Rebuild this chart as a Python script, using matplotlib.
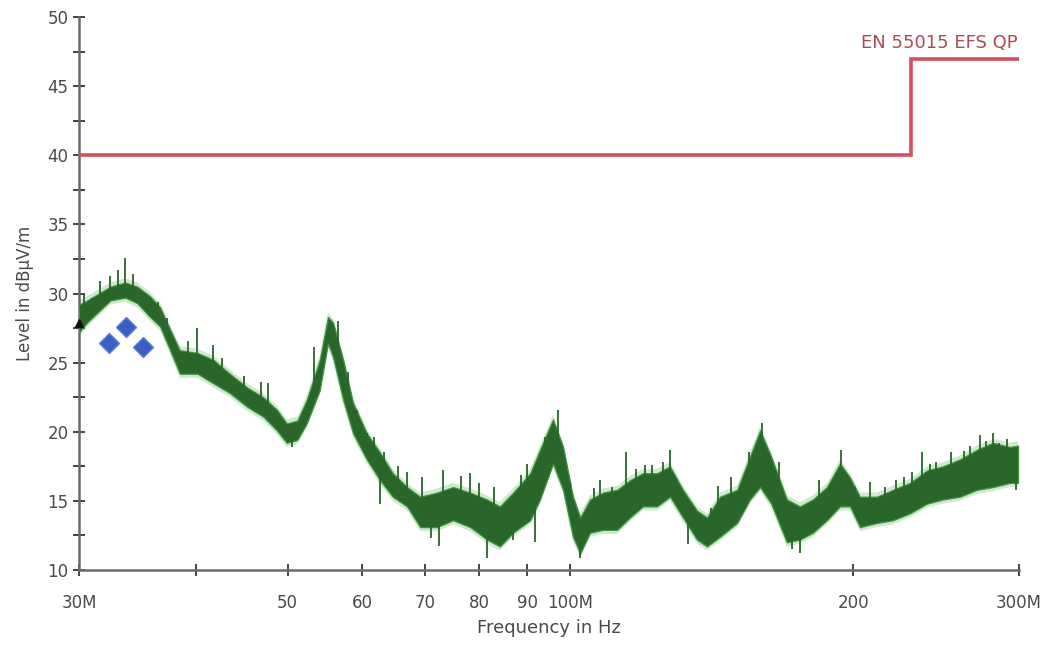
import numpy as np
import matplotlib
matplotlib.use("Agg")
import matplotlib.pyplot as plt
from matplotlib.ticker import FixedLocator, NullFormatter

plt.rcParams['font.family'] = ['DejaVu Sans']

# Measured emission trace (MHz, lower / upper edge of the noisy band in dBuV/m)
freq_mhz = [30.0, 30.6, 32.4, 33.6, 34.6, 35.7, 36.6, 37.5, 38.4, 40.1, 41.7,
            43.4, 45.3, 47.1, 48.7, 49.9, 51.2, 52.4, 54.1, 55.2, 55.9, 57.3,
            58.7, 60.7, 62.7, 64.7, 67.0, 69.2, 72.1, 75.0, 78.2, 81.5, 84.1,
            86.9, 90.6, 92.8, 95.8, 98.2, 100.6, 102.4, 104.9, 108.3, 112.1,
            115.7, 119.4, 123.6, 127.6, 131.7, 136.3, 139.7, 144.2, 150.4,
            155.2, 159.1, 163.5, 169.9, 175.4, 181.1, 187.4, 193.5, 198.3,
            203.2, 211.8, 220.3, 229.7, 239.5, 249.0, 259.6, 270.7, 281.5,
            293.5, 299.3]
band_low = [27.2, 27.9, 29.5, 29.7, 29.3, 28.3, 27.6, 25.9, 24.2, 24.2, 23.5,
            22.8, 21.8, 21.1, 20.1, 19.2, 19.4, 20.6, 23.0, 26.4, 25.4, 22.3,
            19.9, 18.0, 16.5, 15.3, 14.6, 13.1, 13.1, 13.6, 13.1, 12.2, 11.7,
            12.7, 13.6, 15.1, 17.7, 15.8, 12.4, 11.2, 12.7, 12.9, 12.9,
            13.8, 14.6, 14.6, 15.3, 13.8, 12.2, 11.7, 12.4, 13.4,
            15.1, 16.0, 14.8, 12.0, 12.2, 12.7, 13.6, 14.6, 14.6,
            13.1, 13.4, 13.6, 14.1, 14.8, 15.1, 15.3, 15.8, 16.0,
            16.3, 16.3]
band_high = [29.2, 29.5, 30.5, 30.8, 30.5, 29.8, 29.0, 27.4, 25.9, 25.7, 25.2,
             24.2, 23.2, 22.5, 21.6, 20.6, 20.8, 22.3, 25.2, 28.3, 27.9, 25.2,
             22.1, 19.9, 18.5, 17.0, 16.0, 15.3, 15.6, 16.0, 15.6, 15.1, 14.6,
             15.6, 17.0, 18.7, 20.9, 18.9, 15.3, 13.8, 15.1, 15.6, 15.8,
             16.5, 17.0, 17.0, 17.5, 15.8, 14.3, 13.8, 15.3, 15.8,
             18.2, 20.1, 18.2, 15.1, 14.6, 15.1, 16.0, 17.7, 16.7,
             15.3, 15.3, 15.8, 16.3, 17.2, 17.5, 18.0, 18.7, 19.2,
             18.9, 19.0]

# Isolated peaks / dips sticking out of the band
spike_freq = [30.4, 31.0, 31.6, 32.4, 33.0, 33.6, 34.2, 36.4, 37.2, 39.2,
              40.1, 41.7, 42.6, 44.9, 46.8, 47.7, 50.5, 53.3, 56.6, 58.0,
              59.3, 60.7, 61.8, 62.7, 63.3, 65.5, 67.0, 69.5, 71.0, 72.5,
              73.2, 76.5, 78.2, 80.0, 81.5, 83.0, 86.9, 88.5, 90.0, 91.7,
              94.0, 97.0, 100.0, 102.4, 106.0, 107.5, 110.7, 114.6, 117.5,
              120.0, 122.0, 125.5, 127.6, 133.5, 141.0, 143.6, 148.0, 155.0,
              160.0, 166.5, 172.0, 175.4, 184.0, 193.8, 201.0, 208.3, 216.0,
              222.0, 226.5, 230.9, 236.5, 241.0, 245.0, 254.0, 262.0, 266.0,
              273.0, 277.0, 281.5, 286.0, 291.0, 298.0]
spike_level = [29.9, 29.7, 30.9, 31.3, 31.7, 32.6, 31.4, 29.4, 28.2, 26.6,
               27.5, 26.3, 25.3, 24.0, 23.6, 23.5, 18.9, 26.1, 28.0, 24.3,
               21.6, 19.9, 19.6, 14.8, 18.5, 17.5, 17.1, 16.7, 12.3, 11.7,
               17.2, 16.8, 17.0, 16.3, 10.9, 16.0, 12.2, 16.9, 17.7, 12.0,
               19.6, 21.6, 16.4, 10.9, 15.9, 16.5, 16.0, 18.5, 17.3,
               17.6, 17.6, 17.8, 18.7, 11.9, 14.5, 16.1, 16.7, 18.5,
               20.6, 17.8, 11.5, 11.2, 16.5, 18.7, 16.0, 16.4, 16.0,
               16.5, 16.7, 17.1, 18.5, 17.7, 17.8, 18.5, 18.6, 19.0,
               19.8, 19.3, 19.9, 19.2, 19.5, 15.8]

# Final (quasi-peak) measurements
qp_freq = [32.3, 33.7, 35.1]
qp_level = [26.4, 27.6, 26.1]

# Limit line EN 55015 EFS QP
limit_freq = [30.0, 230.0, 230.0, 300.0]
limit_level = [40.0, 40.0, 47.0, 47.0]

x_ticks = [30, 40, 50, 60, 70, 80, 90, 100, 200, 300]
x_tick_labels = ['30M', '', '50', '60', '70', '80', '90', '100M', '200', '300M']

fig = plt.figure(figsize=(10.48, 6.5), dpi=100)
ax = fig.add_axes([0.0754, 0.1231, 0.8969, 0.8507])

green_dark = '#286629'
green_edge = '#3f9440'
green_haze = '#5aae58'

f = np.array(freq_mhz)
lo = np.array(band_low)
hi = np.array(band_high)
# soft fringe around the trace
ax.fill_between(f, lo - 0.3, hi + 0.3, facecolor=green_haze, alpha=0.28,
                linewidth=0, zorder=2)
ax.fill_between(f, lo, hi, facecolor=green_dark, edgecolor=green_edge,
                linewidth=0.9, zorder=3)

sf = np.array(spike_freq)
base = np.interp(np.log10(sf), np.log10(f), (lo + hi) / 2)
ax.vlines(sf, base, spike_level, color=green_dark, linewidth=1.3, zorder=3)

ax.plot(limit_freq, limit_level, color='#d4505e', linewidth=2.6, zorder=4,
        solid_joinstyle='miter')
ax.text(299, 47.45, 'EN 55015 EFS QP', color='#b04a52', fontsize=13,
        ha='right', va='bottom', zorder=5)

ax.plot(qp_freq, qp_level, linestyle='none', marker='D', markersize=10,
        markerfacecolor='#3a5fc4', markeredgecolor='#5b7ed8', zorder=6)
ax.plot([30.0], [27.9], linestyle='none', marker='^', markersize=6,
        color='#111111', zorder=7, clip_on=False)

ax.set_xscale('log')
ax.set_xlim(30, 300)
ax.set_ylim(10, 50)

ax.xaxis.set_major_locator(FixedLocator(x_ticks))
ax.set_xticklabels(x_tick_labels)
ax.xaxis.set_minor_locator(FixedLocator([]))
ax.xaxis.set_minor_formatter(NullFormatter())
ax.yaxis.set_major_locator(FixedLocator([10, 15, 20, 25, 30, 35, 40, 45, 50]))
ax.yaxis.set_minor_locator(FixedLocator(np.arange(12.5, 50, 5)))

for side in ('top', 'right'):
    ax.spines[side].set_visible(False)
for side in ('left', 'bottom'):
    ax.spines[side].set_color('#6a6a6a')
    ax.spines[side].set_linewidth(1.8)

ax.tick_params(axis='both', which='both', direction='inout', color='#444444',
               width=1.4, labelcolor='#4a4a4a', labelsize=12)
ax.tick_params(axis='both', which='major', length=9)
ax.tick_params(axis='y', which='minor', length=8)
ax.tick_params(axis='x', which='major', pad=13)
ax.tick_params(axis='y', which='major', pad=3)

ax.set_xlabel('Frequency in Hz', fontsize=13, color='#4a4a4a', labelpad=5)
ax.set_ylabel('Level in dBμV/m', fontsize=12, color='#4a4a4a', labelpad=10)

fig.savefig('out.png', dpi=100, facecolor='white')
